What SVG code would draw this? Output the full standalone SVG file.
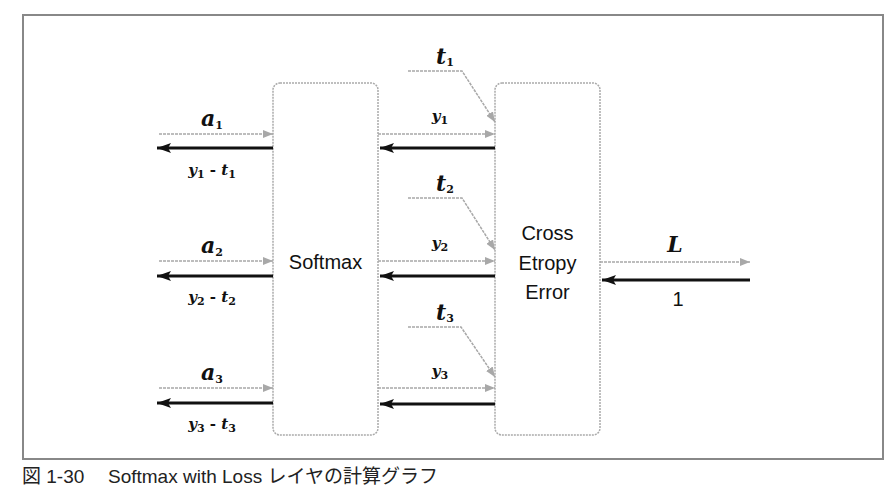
<svg xmlns="http://www.w3.org/2000/svg" width="889" height="504" viewBox="0 0 889 504">
<defs>
<marker id="ag" viewBox="0 0 10 8" refX="10" refY="4" markerWidth="10" markerHeight="8" markerUnits="userSpaceOnUse" orient="auto"><path d="M0,0 L10,4 L0,8 Z" fill="#a8a8a8"/></marker>
<marker id="ab" viewBox="0 0 14 10" refX="0" refY="5" markerWidth="14" markerHeight="10" markerUnits="userSpaceOnUse" orient="auto"><path d="M0,5 L14,0 L11,5 L14,10 Z" fill="#111"/></marker>
<style>
.frame{fill:none;stroke:#888;stroke-width:2}
.box{fill:#fff;stroke:#aaa;stroke-width:1.5;stroke-dasharray:2 1}
.fw{fill:none;stroke:#a8a8a8;stroke-width:1.5;stroke-dasharray:3 1;marker-end:url(#ag)}
.bw{fill:none;stroke:#111;stroke-width:3;marker-start:url(#ab)}
.tl{fill:none;stroke:#a8a8a8;stroke-width:1.5;stroke-dasharray:3 1;marker-end:url(#ag)}
.lbl{font-family:"Liberation Sans",Arial,sans-serif;font-size:20px;fill:#111;text-anchor:middle}
.m{font-family:"DejaVu Serif","Liberation Serif",serif;font-style:italic;font-weight:bold;fill:#111;text-anchor:middle}
.big{font-size:22px}
.sm{font-size:15px}
.sub{font-size:11px;font-style:normal}
.cap{font-family:"Liberation Sans","Noto Sans CJK JP",sans-serif;font-size:19px;fill:#222}
</style>
</defs>
<rect width="889" height="504" fill="#fff"/>
<rect class="frame" x="23" y="15" width="860" height="444"/>
<g id="softmax">
<rect class="box" x="273" y="83" width="105" height="352" rx="7"/>
<text class="lbl" x="325.5" y="269">Softmax</text>
</g>
<g id="cross-entropy">
<rect class="box" x="495" y="83" width="105" height="352" rx="7"/>
<text class="lbl" x="547.5" y="240">Cross</text>
<text class="lbl" x="547.5" y="270">Etropy</text>
<text class="lbl" x="547.5" y="299">Error</text>
</g>
<g id="connectors">
<line class="fw" x1="159" y1="134" x2="273" y2="134"/>
<line class="bw" x1="157" y1="148" x2="273" y2="148"/>
<line class="fw" x1="159" y1="261" x2="273" y2="261"/>
<line class="bw" x1="157" y1="276" x2="273" y2="276"/>
<line class="fw" x1="159" y1="388" x2="273" y2="388"/>
<line class="bw" x1="157" y1="403" x2="273" y2="403"/>
<line class="fw" x1="378" y1="134" x2="495" y2="134"/>
<line class="bw" x1="380" y1="148" x2="495" y2="148"/>
<line class="fw" x1="378" y1="261" x2="495" y2="261"/>
<line class="bw" x1="380" y1="276" x2="495" y2="276"/>
<line class="fw" x1="378" y1="388" x2="495" y2="388"/>
<line class="bw" x1="380" y1="404" x2="495" y2="404"/>
<polyline class="tl" points="408,71 462,71 495,122"/>
<polyline class="tl" points="408,198 462,198 495,250"/>
<polyline class="tl" points="408,327 461,327 495,377"/>
<line class="fw" x1="600" y1="262" x2="750" y2="262"/>
<line class="bw" x1="602" y1="280" x2="750" y2="280"/>
</g>
<g id="labels">
<text class="m big" x="212" y="126">a<tspan class="sub" dy="3">1</tspan></text>
<text class="m sm" x="212" y="175">y<tspan class="sub" dy="3">1</tspan><tspan dy="-3" font-style="normal"> - </tspan>t<tspan class="sub" dy="3">1</tspan></text>
<text class="m big" x="212" y="253">a<tspan class="sub" dy="3">2</tspan></text>
<text class="m sm" x="212" y="302">y<tspan class="sub" dy="3">2</tspan><tspan dy="-3" font-style="normal"> - </tspan>t<tspan class="sub" dy="3">2</tspan></text>
<text class="m big" x="212" y="380">a<tspan class="sub" dy="3">3</tspan></text>
<text class="m sm" x="212" y="429">y<tspan class="sub" dy="3">3</tspan><tspan dy="-3" font-style="normal"> - </tspan>t<tspan class="sub" dy="3">3</tspan></text>
<text class="m sm" x="440" y="121">y<tspan class="sub" dy="3">1</tspan></text>
<text class="m sm" x="440" y="248">y<tspan class="sub" dy="3">2</tspan></text>
<text class="m sm" x="440" y="376">y<tspan class="sub" dy="3">3</tspan></text>
<text class="m big" x="445" y="64">t<tspan class="sub" dy="2" font-size="13">1</tspan></text>
<text class="m big" x="445" y="191">t<tspan class="sub" dy="2" font-size="13">2</tspan></text>
<text class="m big" x="445" y="320">t<tspan class="sub" dy="2" font-size="13">3</tspan></text>
<text class="m big" x="675" y="252">L</text>
<text class="lbl" x="678" y="306" font-size="17">1</text>
</g>
<text class="cap" x="22" y="483">図 1-30<tspan x="108">Softmax with Loss レイヤの計算グラフ</tspan></text>
</svg>
